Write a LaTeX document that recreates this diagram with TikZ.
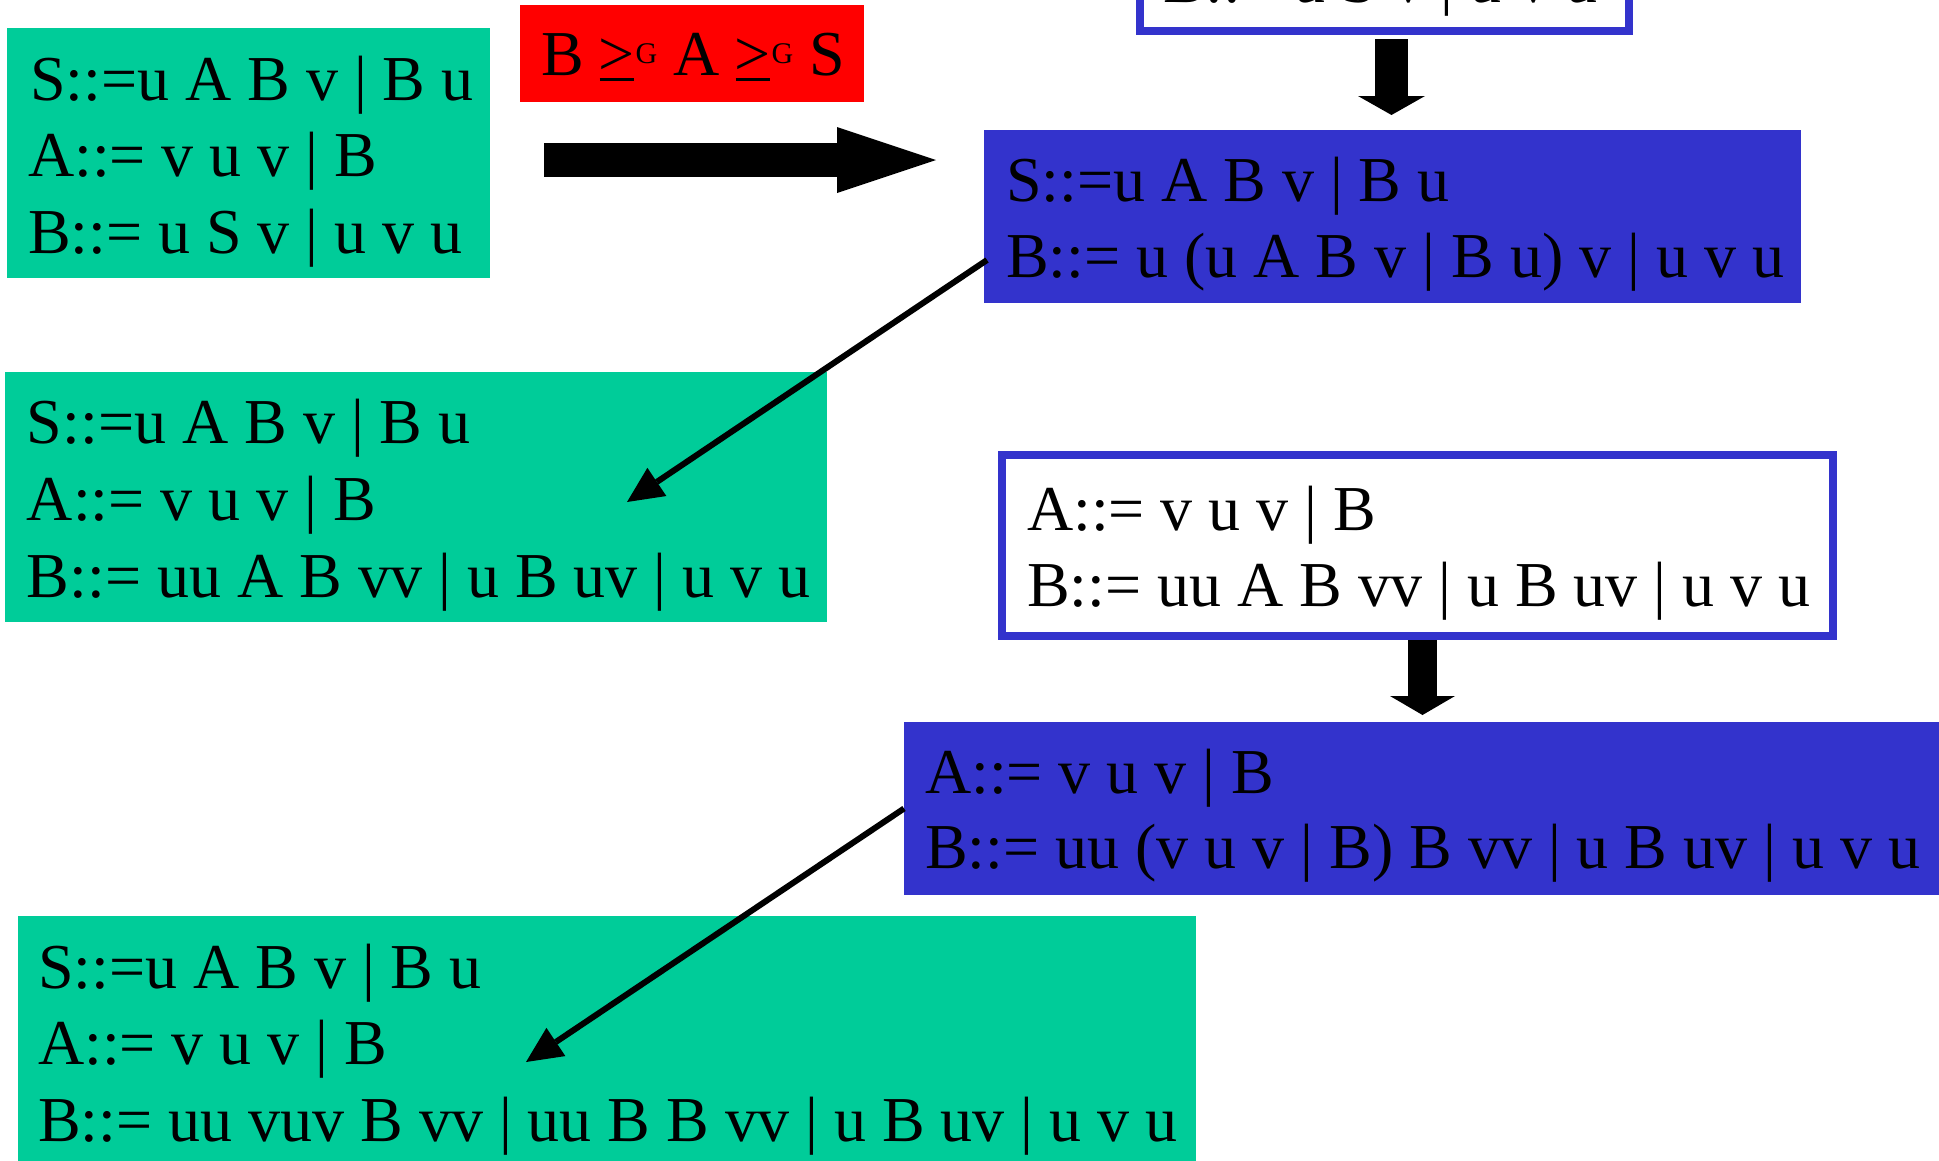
\documentclass[tikz,border=0pt]{standalone}
\usepackage{fontspec}
\setmainfont{Liberation Serif}
\usetikzlibrary{arrows.meta,calc}
\definecolor{gramgreen}{RGB}{0,204,153}
\definecolor{gramblue}{RGB}{51,51,204}
\definecolor{gramred}{RGB}{255,0,0}
\newfontfamily\supfont{Liberation Serif}
\newcommand{\geqG}{\rlap{\rule[-6pt]{34pt}{3pt}}\makebox[34pt][c]{>}\hspace{2pt}\raisebox{12pt}{\supfont\fontsize{30}{30}\selectfont G}}
\begin{document}
\begin{tikzpicture}[x=1pt,y=-1pt,
  box/.style={anchor=north west, inner sep=0pt, outer sep=0pt},
  greenbox/.style={box, fill=gramgreen},
  bluebox/.style={box, fill=gramblue},
  redbox/.style={box, fill=gramred},
  framebox/.style={box, draw=gramblue, line width=8pt, fill=white},
  gline/.style={anchor=base west, inner sep=0pt, outer sep=0pt, font=\fontsize{64}{77}\selectfont},
  thinarrow/.style={line width=6pt, -{Triangle[length=36pt,width=34pt,line width=0pt]}},
  rightblock/.style={line width=34pt, -{Triangle[length=99pt,width=66pt,line width=0pt]}},
  downblockA/.style={line width=33pt, -{Triangle[length=19pt,width=67pt,line width=0pt]}},
  downblockB/.style={line width=29pt, -{Triangle[length=19pt,width=65pt,line width=0pt]}}
]
\useasboundingbox (0,0) rectangle (1939,1160);
\clip (0,0) rectangle (1939,1160);

% boxes
\node[greenbox, minimum width=483pt, minimum height=250pt] (g1) at (7,28) {};
\node[redbox, minimum width=344pt, minimum height=97pt] (r) at (520,5) {};
\node[framebox, minimum width=489pt, minimum height=111pt] (w1) at (1140,-80) {};
\node[bluebox, minimum width=817pt, minimum height=173pt] (b1) at (984,130) {};
\node[greenbox, minimum width=822pt, minimum height=250pt] (g2) at (5,372) {};
\node[framebox, minimum width=831pt, minimum height=181pt] (w2) at (1002,455) {};
\node[bluebox, minimum width=1040pt, minimum height=173pt] (b2) at (904,722) {};
\node[greenbox, minimum width=1178pt, minimum height=260pt] (g3) at (18,916) {};

% texts
\node[gline] (g1a) at (30,100) {S::=u A B v | B u};
\node[gline] (g1b) at (28,176) {A::= v u v | B};
\node[gline] (g1c) at (28,253) {B::= u S v | u v u};

\node[gline] (ra) at (541,75) {B \geqG{} A \geqG{} S};

\node[gline] (w1a) at (1163,2) {B::= u S v | u v u};

\node[gline] (b1a) at (1006,201) {S::=u A B v | B u};
\node[gline] (b1b) at (1006,277) {B::= u (u A B v | B u) v | u v u};

\node[gline] (g2a) at (27,443) {S::=u A B v | B u};
\node[gline] (g2b) at (27,520) {A::= v u v | B};
\node[gline] (g2c) at (27,597) {B::= uu A B vv | u B uv | u v u};

\node[gline] (w2a) at (1027,530) {A::= v u v | B};
\node[gline] (w2b) at (1027,606) {B::= uu A B vv | u B uv | u v u};

\node[gline] (b2a) at (925,793) {A::= v u v | B};
\node[gline] (b2b) at (925,868) {B::= uu (v u v | B) B vv | u B uv | u v u};

\node[gline] (g3a) at (38,988) {S::=u A B v | B u};
\node[gline] (g3b) at (38,1064) {A::= v u v | B};
\node[gline] (g3c) at (38,1141) {B::= uu vuv B vv | uu B B vv | u B uv | u v u};

% connectors
\coordinate (bigs) at (544,160);
\coordinate (bige) at (936,160);
\draw[rightblock] (bigs) -- (bige);

\coordinate (d1) at (1391.5,0);
\coordinate (d2) at (1422.5,0);
\draw[downblockA] ($(w1.south -| d1)+(0,8)$) -- ($(b1.north -| d1)+(0,-15)$);
\draw[downblockB] ($(w2.south -| d2)+(0,4)$) -- ($(b2.north -| d2)+(0,-7)$);

\coordinate (t1) at (627,502);
\coordinate (t2) at (526,1062);
\draw[thinarrow] ([yshift=-43.5pt,xshift=3pt]b1.west) -- (t1);
\draw[thinarrow] ([xshift=0pt]b2.west) -- (t2);
\end{tikzpicture}
\end{document}
